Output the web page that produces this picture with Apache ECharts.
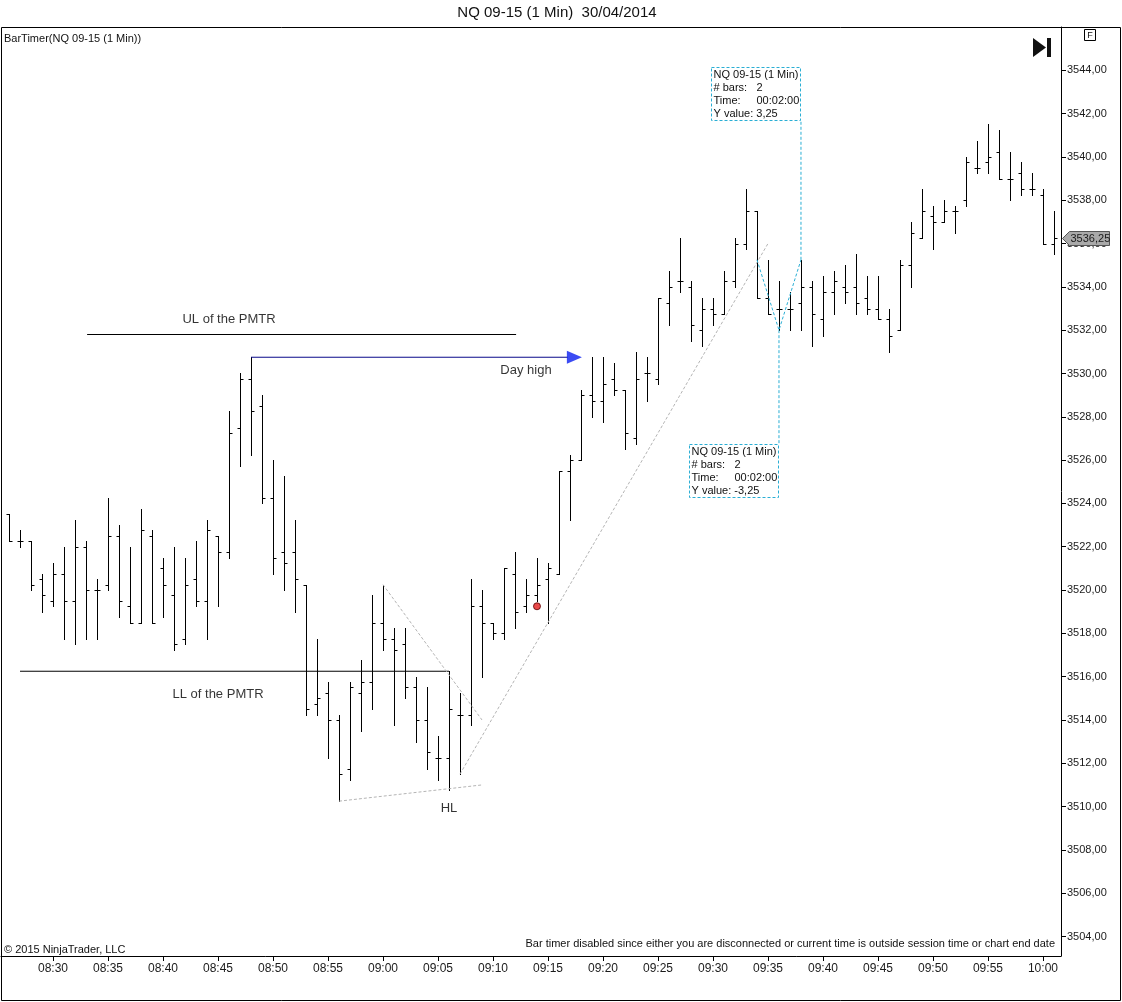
<!DOCTYPE html>
<html>
<head>
<meta charset="utf-8">
<title>NQ 09-15 (1 Min) 30/04/2014</title>
<script src="https://cdn.jsdelivr.net/npm/echarts@6.0.0/dist/echarts.min.js"></script>
<style>
  html, body { margin: 0; padding: 0; background: #fff; }
  #chart { width: 1122px; height: 1002px; }
</style>
</head>
<body>
<div id="chart"></div>
<script>
// 1 min bars, 08:26 .. 10:01
const times = [
  '08:26', '08:27', '08:28', '08:29', '08:30', '08:31', '08:32', '08:33', '08:34', '08:35',
  '08:36', '08:37', '08:38', '08:39', '08:40', '08:41', '08:42', '08:43', '08:44', '08:45',
  '08:46', '08:47', '08:48', '08:49', '08:50', '08:51', '08:52', '08:53', '08:54', '08:55',
  '08:56', '08:57', '08:58', '08:59', '09:00', '09:01', '09:02', '09:03', '09:04', '09:05',
  '09:06', '09:07', '09:08', '09:09', '09:10', '09:11', '09:12', '09:13', '09:14', '09:15',
  '09:16', '09:17', '09:18', '09:19', '09:20', '09:21', '09:22', '09:23', '09:24', '09:25',
  '09:26', '09:27', '09:28', '09:29', '09:30', '09:31', '09:32', '09:33', '09:34', '09:35',
  '09:36', '09:37', '09:38', '09:39', '09:40', '09:41', '09:42', '09:43', '09:44', '09:45',
  '09:46', '09:47', '09:48', '09:49', '09:50', '09:51', '09:52', '09:53', '09:54', '09:55',
  '09:56', '09:57', '09:58', '09:59', '10:00', '10:01'
];

const opens = [
  3523.5, 3522.25, 3522.25, 3520.5, 3519.5, 3520.75, 3519.5, 3522.0, 3520.0, 3520.25,
  3522.5, 3519.25, 3518.5, 3522.5, 3521.0, 3519.75, 3517.75, 3520.5, 3519.5, 3522.5,
  3521.75, 3527.5, 3529.75, 3528.5, 3524.25, 3521.75, 3521.75, 3520.25, 3514.75, 3515.25,
  3514.0, 3511.75, 3515.25, 3515.75, 3518.5, 3517.75, 3517.5, 3515.5, 3514.0, 3512.25,
  3512.25, 3514.25, 3514.25, 3519.25, 3518.5, 3518.0, 3520.75, 3519.25, 3519.75, 3520.5,
  3520.75, 3525.5, 3526.0, 3529.0, 3528.75, 3529.75, 3529.25, 3527.0, 3530.0, 3529.75,
  3533.25, 3534.25, 3534.0, 3532.0, 3533.0, 3532.75, 3534.25, 3536.0, 3537.5, 3533.5,
  3533.0, 3533.0, 3533.25, 3534.0, 3532.5, 3533.75, 3534.0, 3534.0, 3533.5, 3533.0,
  3532.5, 3532.0, 3535.0, 3536.25, 3537.25, 3537.0, 3537.5, 3538.0, 3539.5, 3539.75,
  3540.25, 3539.0, 3539.25, 3538.5, 3538.25, 3536.0
];
const highs = [
  3523.5, 3522.75, 3522.25, 3520.75, 3521.25, 3522.0, 3523.25, 3522.25, 3520.5, 3524.25,
  3523.0, 3522.0, 3523.75, 3522.75, 3521.5, 3522.0, 3521.5, 3522.25, 3523.25, 3522.5,
  3528.25, 3530.0, 3530.75, 3529.0, 3526.0, 3525.25, 3523.25, 3520.25, 3517.75, 3515.75,
  3514.25, 3515.75, 3516.75, 3519.75, 3520.25, 3518.25, 3518.25, 3516.0, 3515.5, 3513.25,
  3516.25, 3515.25, 3520.5, 3520.0, 3518.5, 3521.0, 3521.75, 3520.5, 3521.5, 3521.25,
  3525.5, 3526.25, 3529.25, 3530.75, 3530.75, 3530.5, 3529.25, 3531.0, 3530.75, 3533.5,
  3534.75, 3536.25, 3534.25, 3533.5, 3533.5, 3534.75, 3536.25, 3538.5, 3537.5, 3535.25,
  3534.25, 3533.75, 3535.25, 3534.25, 3534.5, 3534.75, 3535.0, 3535.5, 3534.5, 3534.5,
  3533.0, 3535.25, 3537.0, 3538.5, 3537.75, 3538.0, 3537.75, 3540.0, 3540.75, 3541.5,
  3541.25, 3540.25, 3539.75, 3539.25, 3538.5, 3537.5
];
const lows = [
  3522.25, 3522.0, 3520.0, 3519.0, 3519.25, 3517.75, 3517.5, 3517.75, 3517.75, 3520.0,
  3518.75, 3518.5, 3518.5, 3518.5, 3518.75, 3517.25, 3517.5, 3519.25, 3517.75, 3519.25,
  3521.5, 3525.75, 3526.25, 3524.0, 3520.75, 3520.0, 3519.0, 3514.25, 3514.25, 3512.25,
  3510.25, 3511.25, 3513.5, 3514.5, 3517.25, 3513.75, 3515.0, 3513.0, 3511.75, 3511.25,
  3510.75, 3511.5, 3513.75, 3516.0, 3517.75, 3517.75, 3518.25, 3519.0, 3519.5, 3518.5,
  3520.75, 3523.25, 3526.0, 3528.0, 3527.75, 3529.0, 3526.5, 3526.75, 3528.75, 3529.5,
  3532.25, 3533.75, 3531.5, 3531.25, 3532.25, 3532.75, 3534.0, 3535.75, 3533.5, 3532.75,
  3532.0, 3532.0, 3532.0, 3531.25, 3531.75, 3532.75, 3533.25, 3532.75, 3532.75, 3532.5,
  3531.0, 3532.0, 3534.0, 3536.25, 3535.75, 3537.0, 3536.5, 3537.75, 3539.25, 3539.25,
  3539.0, 3538.0, 3538.25, 3538.25, 3536.0, 3535.5
];
const closes = [
  3522.25, 3522.25, 3520.25, 3519.75, 3520.75, 3519.5, 3522.0, 3520.0, 3520.0, 3522.5,
  3519.5, 3518.5, 3522.75, 3518.5, 3520.25, 3517.5, 3520.25, 3519.5, 3522.75, 3521.75,
  3527.25, 3529.75, 3528.25, 3524.25, 3521.5, 3521.25, 3520.5, 3514.5, 3515.0, 3514.0,
  3511.5, 3515.5, 3515.75, 3518.5, 3517.75, 3517.25, 3515.5, 3514.0, 3512.5, 3512.25,
  3514.5, 3514.25, 3519.25, 3518.5, 3518.0, 3521.0, 3519.0, 3519.75, 3520.25, 3521.0,
  3525.5, 3526.0, 3529.0, 3528.75, 3529.5, 3529.25, 3527.25, 3529.75, 3530.0, 3533.5,
  3534.0, 3534.25, 3532.25, 3533.0, 3532.75, 3534.25, 3536.0, 3537.5, 3533.5, 3532.75,
  3533.0, 3533.0, 3534.0, 3532.75, 3533.75, 3534.25, 3533.75, 3533.25, 3533.0, 3532.5,
  3531.75, 3535.0, 3536.5, 3537.5, 3537.0, 3537.5, 3537.5, 3539.75, 3539.5, 3540.0,
  3539.0, 3539.0, 3538.5, 3538.5, 3536.0, 3536.25
];

// axis ticks
const timeTicks = ['08:30', '08:35', '08:40', '08:45', '08:50', '08:55', '09:00', '09:05', '09:10',
  '09:15', '09:20', '09:25', '09:30', '09:35', '09:40', '09:45', '09:50', '09:55', '10:00'];
const priceTicks = [3504, 3506, 3508, 3510, 3512, 3514, 3516, 3518, 3520, 3522, 3524,
  3526, 3528, 3530, 3532, 3534, 3536, 3538, 3540, 3542, 3544];

// drawings: [bar index, price]
const ulLine = [[7.1, 3531.8], [46.1, 3531.8]];
const llLine = [[1, 3516.25], [40, 3516.25]];
const dayHigh = [[22, 3530.75], [50.8, 3530.75]];
const dayHighArrow = [51.4, 3530.75];
const fallLine = [[34, 3520.25], [43, 3514.0]];
const trendLine = [[41, 3511.5], [69, 3536.0]];
const hlLine = [[30, 3510.25], [43, 3511.0]];
const rulerV = [[68, 3535.25], [70, 3532.0], [72, 3535.25]];
const rulerUp = [[72, 3535.25], [72, 3541.65]];
const rulerDown = [[70, 3532.0], [70, 3526.75]];
const signalDot = [48, 3519.25];
const notes = [
  ['UL of the PMTR', 20, 3532.5],
  ['Day high', 47, 3530.15],
  ['LL of the PMTR', 19, 3515.2],
  ['HL', 40, 3509.9]
];
const boxUp = [['NQ 09-15 (1 Min)', ''], ['# bars:', '2'], ['Time:', '00:02:00'], ['Y value: 3,25', '']];
const boxDown = [['NQ 09-15 (1 Min)', ''], ['# bars:', '2'], ['Time:', '00:02:00'], ['Y value: -3,25', '']];

const FONT = '"Liberation Sans", Arial, sans-serif';
const fmtPrice = (v) => v.toFixed(2).replace('.', ',');

const chart = echarts.init(document.getElementById('chart'));

const bars = times.map((t, i) => [i, opens[i], highs[i], lows[i], closes[i]]);
const crisp = (v) => Math.round(v) + 0.5;

function renderBar(params, api) {
  const i = api.value(0);
  const x = crisp(api.coord([i, api.value(2)])[0]);
  const yh = api.coord([i, api.value(2)])[1];
  const yl = api.coord([i, api.value(3)])[1];
  const yo = crisp(api.coord([i, api.value(1)])[1]);
  const yc = crisp(api.coord([i, api.value(4)])[1]);
  const st = { stroke: '#000', lineWidth: 1 };
  return {
    type: 'group',
    children: [
      { type: 'line', shape: { x1: x, y1: Math.round(yh), x2: x, y2: Math.round(yl) + 1 }, style: st },
      { type: 'line', shape: { x1: x - 3, y1: yo, x2: x, y2: yo }, style: st },
      { type: 'line', shape: { x1: x, y1: yc, x2: x + 3, y2: yc }, style: st }
    ]
  };
}

function seg(data, color, type) {
  return {
    type: 'line', data: data, symbol: 'none', silent: true, animation: false, z: 3,
    lineStyle: { color: color, width: 1, type: type || 'solid' }
  };
}

const option = {
  animation: false,
  grid: { left: 1, right: 61, top: 27, bottom: 46 },
  xAxis: {
    type: 'value', min: -0.73, max: 95.64,
    axisLine: { onZero: false, lineStyle: { color: '#000', width: 1 } },
    axisTick: { length: 5, lineStyle: { color: '#000' }, customValues: timeTicks.map(t => times.indexOf(t)) },
    axisLabel: {
      customValues: timeTicks.map(t => times.indexOf(t)),
      formatter: (v) => times[Math.round(v)],
      color: '#1a1a1a', fontSize: 12, fontFamily: FONT, margin: 7
    },
    splitLine: { show: false }
  },
  yAxis: {
    type: 'value', position: 'right', min: 3503.1, max: 3546,
    axisLine: { show: true, onZero: false, lineStyle: { color: '#000', width: 1 } },
    axisTick: { show: true, length: 5, lineStyle: { color: '#000' }, customValues: priceTicks },
    axisLabel: {
      customValues: priceTicks, formatter: fmtPrice,
      color: '#1a1a1a', fontSize: 11, fontFamily: FONT, margin: 6
    },
    splitLine: { show: false }
  },
  series: [
    {
      type: 'custom', name: 'NQ 09-15', data: bars, renderItem: renderBar,
      encode: { x: 0, y: [1, 2, 3, 4] }, z: 2, silent: true
    },
    seg(ulLine, '#000'),
    seg(llLine, '#000'),
    seg(dayHigh, '#08088a'),
    seg(fallLine, '#b4b4b4', [3, 2]),
    seg(trendLine, '#b4b4b4', [3, 2]),
    seg(hlLine, '#b4b4b4', [3, 2]),
    seg(rulerV, '#2aaed4', [3, 2]),
    seg(rulerUp, '#2aaed4', [3, 2]),
    seg(rulerDown, '#2aaed4', [3, 2]),
    {
      type: 'scatter', data: [dayHighArrow], symbol: 'triangle', symbolSize: [13, 15],
      symbolRotate: -90, itemStyle: { color: '#0a1ef0' }, silent: true, z: 4
    },
    {
      type: 'scatter', data: [signalDot], symbol: 'circle', symbolSize: 7,
      itemStyle: { color: '#e41b1b', borderColor: '#5a0000', borderWidth: 1 }, silent: true, z: 4
    },
    {
      type: 'scatter', symbolSize: 1, itemStyle: { color: 'rgba(255,255,255,0)' }, silent: true, z: 5,
      data: notes.map(n => ({ name: n[0], value: [n[1], n[2]] })),
      label: {
        show: true, position: 'inside', formatter: '{b}', color: '#000',
        textBorderWidth: 0, fontSize: 13, fontFamily: FONT
      }
    }
  ],
  graphic: []
};

chart.setOption(option);

// chrome and overlays placed from the axes
function infoBox(rows, x, y) {
  const w = 89, h = 53;
  const children = [{
    type: 'rect', shape: { x: x, y: y, width: w, height: h },
    style: { fill: '#fff', stroke: '#2aaed4', lineWidth: 1, lineDash: [3, 2] }
  }];
  rows.forEach((r, k) => {
    children.push({ type: 'text', style: { x: x + 2, y: y + 7 + k * 13, text: r[0], fill: '#111', font: '11px ' + FONT, textVerticalAlign: 'middle' } });
    if (r[1]) children.push({ type: 'text', style: { x: x + 45, y: y + 7 + k * 13, text: r[1], fill: '#111', font: '11px ' + FONT, textVerticalAlign: 'middle' } });
  });
  return { type: 'group', z: 50, children: children };
}

const up = chart.convertToPixel({ gridIndex: 0 }, rulerUp[1]);
const down = chart.convertToPixel({ gridIndex: 0 }, rulerDown[1]);
const last = chart.convertToPixel({ gridIndex: 0 }, [95, closes[closes.length - 1]]);
const ax = 1061.5, ty = Math.round(last[1]) + 0.5;

chart.setOption({
  graphic: [
    { type: 'rect', z: 60, shape: { x: 1.5, y: 27.5, width: 1119, height: 973 }, style: { fill: 'none', stroke: '#000', lineWidth: 1 } },
    { type: 'text', z: 60, style: { x: 557, y: 13, text: 'NQ 09-15 (1 Min)  30/04/2014', fill: '#111', font: '15px ' + FONT, textAlign: 'center', textVerticalAlign: 'middle' } },
    { type: 'text', z: 60, style: { x: 4, y: 39, text: 'BarTimer(NQ 09-15 (1 Min))', fill: '#111', font: '11px ' + FONT, textVerticalAlign: 'middle' } },
    { type: 'text', z: 60, style: { x: 4, y: 950, text: '\u00a9 2015 NinjaTrader, LLC', fill: '#111', font: '11px ' + FONT, textVerticalAlign: 'middle' } },
    { type: 'text', z: 60, style: { x: 1055, y: 944, text: 'Bar timer disabled since either you are disconnected or current time is outside session time or chart end date', fill: '#111', font: '11px ' + FONT, textAlign: 'right', textVerticalAlign: 'middle' } },
    { type: 'polygon', z: 60, shape: { points: [[1033, 38], [1033, 57], [1046, 47.5]] }, style: { fill: '#111' } },
    { type: 'rect', z: 60, shape: { x: 1047, y: 38, width: 4, height: 19 }, style: { fill: '#111' } },
    { type: 'rect', z: 60, shape: { x: 1084.5, y: 29.5, width: 11, height: 11 }, style: { fill: '#fff', stroke: '#000', lineWidth: 1 } },
    { type: 'text', z: 61, style: { x: 1090, y: 35.5, text: 'F', fill: '#111', font: '9px ' + FONT, textAlign: 'center', textVerticalAlign: 'middle' } },
    infoBox(boxUp, Math.round(up[0]) - 89.5, Math.round(up[1]) - 53.5),
    infoBox(boxDown, Math.round(down[0]) - 89.5, Math.round(down[1]) + 0.5),
    {
      type: 'polygon', z: 70,
      shape: { points: [[ax + 1, ty], [ax + 8, ty - 7], [ax + 48, ty - 7], [ax + 48, ty + 7], [ax + 8, ty + 7]] },
      style: { fill: '#a9a9a9', stroke: '#555', lineWidth: 1 }
    },
    { type: 'text', z: 71, style: { x: ax + 9, y: ty, text: fmtPrice(closes[closes.length - 1]), fill: '#1a1a1a', font: '11px ' + FONT, textVerticalAlign: 'middle' } }
  ]
});
</script>
</body>
</html>
